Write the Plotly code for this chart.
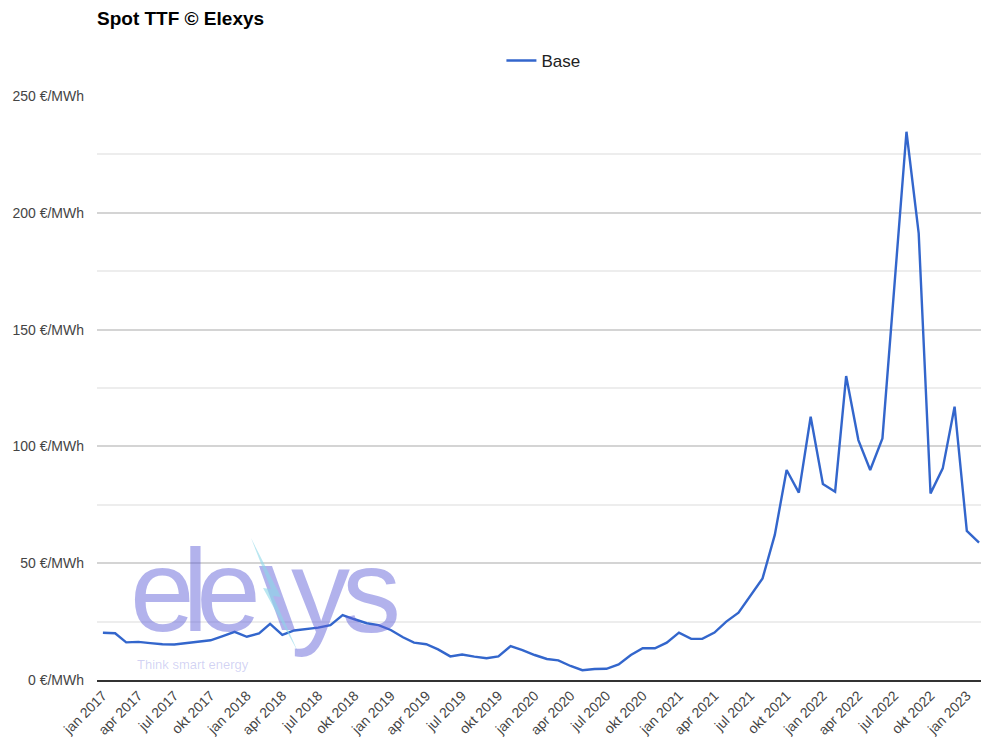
import pandas as pd
import plotly.graph_objects as go

# ---------------- data ----------------
series_name = "Base"
start_month = "2017-01-01"
base_values = [
    # 2017
    20.2, 20.0, 16.1, 16.3, 15.8, 15.3, 15.2, 15.8, 16.7, 17.0, 18.8, 20.6,
    # 2018
    18.5, 19.9, 24.0, 19.3, 21.2, 21.9, 22.4, 23.5, 27.8, 26.0, 24.3, 23.5,
    # 2019
    21.4, 18.3, 16.0, 15.3, 13.1, 10.1, 10.9, 10.0, 9.3, 10.1, 14.5, 12.8,
    # 2020
    10.7, 9.0, 8.4, 6.0, 4.2, 4.7, 4.8, 6.7, 10.7, 13.6, 13.6, 16.0,
    # 2021
    20.3, 17.6, 17.6, 20.3, 25.0, 28.8, 36.1, 43.5, 62.1, 89.9, 80.2, 112.7,
    # 2022
    83.9, 80.6, 130.1, 102.7, 89.9, 103.4, 168.0, 234.7, 191.2, 79.9, 90.6, 117.0,
    # 2023
    63.8, 58.8,
]
months = pd.date_range(start_month, periods=len(base_values), freq="MS")

x_tick_values = [
    "2017-01-01", "2017-04-01", "2017-07-01", "2017-10-01",
    "2018-01-01", "2018-04-01", "2018-07-01", "2018-10-01",
    "2019-01-01", "2019-04-01", "2019-07-01", "2019-10-01",
    "2020-01-01", "2020-04-01", "2020-07-01", "2020-10-01",
    "2021-01-01", "2021-04-01", "2021-07-01", "2021-10-01",
    "2022-01-01", "2022-04-01", "2022-07-01", "2022-10-01",
    "2023-01-01",
]
x_tick_labels = [
    "jan 2017", "apr 2017", "jul 2017", "okt 2017",
    "jan 2018", "apr 2018", "jul 2018", "okt 2018",
    "jan 2019", "apr 2019", "jul 2019", "okt 2019",
    "jan 2020", "apr 2020", "jul 2020", "okt 2020",
    "jan 2021", "apr 2021", "jul 2021", "okt 2021",
    "jan 2022", "apr 2022", "jul 2022", "okt 2022",
    "jan 2023",
]
y_tick_values = [0, 50, 100, 150, 200, 250]
y_tick_labels = ["0 €/MWh", "50 €/MWh", "100 €/MWh", "150 €/MWh", "200 €/MWh", "250 €/MWh"]
y_minor_values = [25, 75, 125, 175, 225]

title_text = "Spot TTF © Elexys"
watermark_parts = ["ele", "ys"]
watermark_tagline = "Think smart energy"

# ---------------- layout helpers ----------------
W, H = 981, 752
PL, PR, PT, PB = 97, 981, 96, 680  # plot area in pixels


def px(x):
    return (x - PL) / (PR - PL)


def py(y):
    return (PB - y) / (PB - PT)


FONT = "Liberation Sans, Arial, sans-serif"
WM = "rgba(95,95,215,0.48)"
WM_CYAN = "rgba(140,215,232,0.6)"

fig = go.Figure()
fig.add_trace(go.Scatter(
    x=months, y=base_values, name=series_name, mode="lines",
    line=dict(color="#3366cc", width=2.4),
))

# watermark (logo text)
annotations = [
    dict(text=f"<span style='letter-spacing:-12px'>{watermark_parts[0]}</span>",
         x=px(193), y=py(591), xref="paper", yref="paper",
         xanchor="center", yanchor="middle", showarrow=False,
         font=dict(family=FONT, size=116, color=WM)),
    dict(text=f"<span style='letter-spacing:-8px'>{watermark_parts[1]}</span>",
         x=px(344), y=py(591), xref="paper", yref="paper",
         xanchor="center", yanchor="middle", showarrow=False,
         font=dict(family=FONT, size=118, color=WM)),
    dict(text=watermark_tagline, x=px(135), y=py(664), xref="paper", yref="paper",
         xanchor="left", yanchor="middle", showarrow=False,
         font=dict(family=FONT, size=13, color="rgba(95,95,215,0.28)")),
]

shapes = []


def poly(points, color):
    d = "M " + " L ".join(f"{px(a):.5f},{py(b):.5f}" for a, b in points) + " Z"
    return dict(type="path", path=d, xref="paper", yref="paper",
                fillcolor=color, line=dict(width=0), layer="above")


shapes.append(poly([(259, 566), (272, 566), (295, 630), (282, 630)], WM))
shapes.append(poly([(251, 538), (281, 597), (273, 596), (298, 652), (263, 588), (271, 589)], WM_CYAN))

fig.update_layout(
    width=W, height=H,
    margin=dict(l=PL, r=W - PR, t=PT, b=H - PB, pad=0),
    paper_bgcolor="white", plot_bgcolor="white",
    font=dict(family=FONT, size=14, color="#444444"),
    title=dict(text="<b>" + title_text + "</b>", x=97 / W, xanchor="left", xref="container",
               y=1 - 18 / H, yanchor="middle", yref="container",
               font=dict(family=FONT, size=19, color="#000000")),
    showlegend=True,
    legend=dict(orientation="h", x=0.505, xanchor="center", y=py(61), yanchor="middle",
                font=dict(family=FONT, size=17, color="#222222"), bgcolor="rgba(0,0,0,0)"),
    xaxis=dict(
        type="date", range=["2016-12-17", "2023-02-06"],
        tickmode="array", tickvals=x_tick_values, ticktext=x_tick_labels,
        tickangle=-45, ticks="", showgrid=False, zeroline=False,
        showline=True, linecolor="#333333", linewidth=2,
        tickfont=dict(family=FONT, size=14, color="#444444"),
    ),
    yaxis=dict(
        range=[0, 250], tickmode="array", tickvals=y_tick_values, ticktext=y_tick_labels,
        showgrid=True, gridcolor="#d4d4d4", gridwidth=2, zeroline=False,
        ticks="", ticklabelstandoff=12,
        tickfont=dict(family=FONT, size=14, color="#444444"),
        minor=dict(tickvals=y_minor_values, showgrid=True, gridcolor="#ededed", gridwidth=2),
    ),
    annotations=annotations,
    shapes=shapes,
)

fig.write_html(
    "out.html",
    config={"displayModeBar": False},
    post_script="document.body.style.margin='0';document.documentElement.style.overflow='hidden';",
)
